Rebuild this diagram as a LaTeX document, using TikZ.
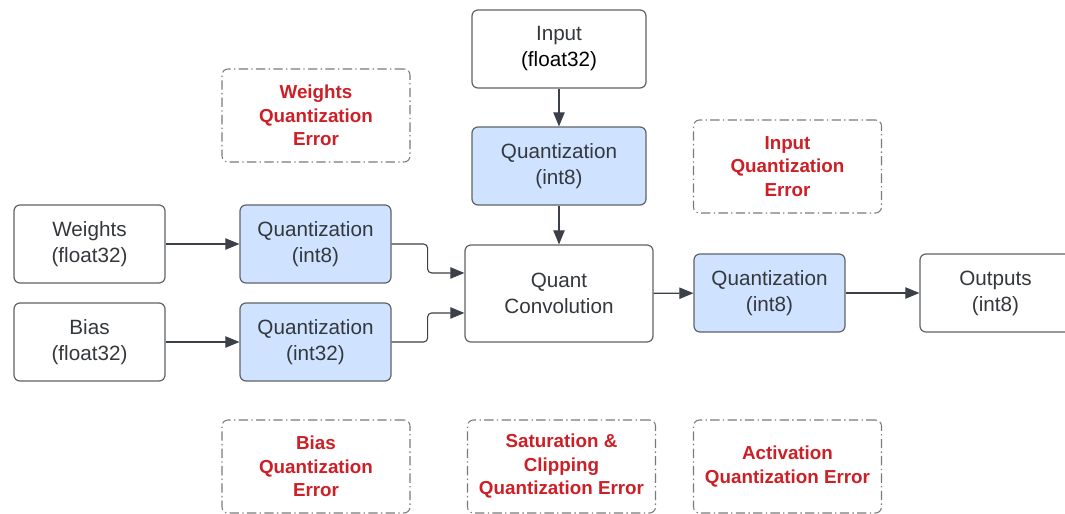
\documentclass[tikz,border=0pt]{standalone}
\usepackage{fontspec}
\setmainfont{Liberation Sans}
\usetikzlibrary{arrows.meta}
\begin{document}
\begin{tikzpicture}[x=0.75pt, y=-0.75pt,
        box/.style={draw=boxg, line width=0.9pt, rounded corners=4.5pt, fill=white,
          text=txtg, align=center, inner sep=0pt,
          minimum width=113.25pt, minimum height=58.5pt,
          font=\fontsize{15.5}{19.5}\selectfont},
        qbox/.style={box, fill=qblue},
        wide/.style={minimum width=130.5pt},
        errbox/.style={draw=errg, line width=0.8pt, rounded corners=4.5pt,
          dash pattern=on 7pt off 2.5pt on 1pt off 2.5pt,
          text=errred, align=center, inner sep=0pt,
          minimum width=141pt, minimum height=69.75pt,
          font=\fontsize{14.1}{17.6}\selectfont\bfseries},
        flow/.style={draw=arrg, line width=0.8pt, -{Triangle[length=10.5pt, width=8.5pt]}},
      ]
      \definecolor{boxg}{HTML}{5F6368}
      \definecolor{arrg}{HTML}{3C4048}
      \definecolor{txtg}{HTML}{34383C}
      \definecolor{qblue}{HTML}{CFE2FF}
      \definecolor{errg}{HTML}{7A7A7A}
      \definecolor{errred}{HTML}{CC1F26}
      \path[use as bounding box, fill=white] (0,0) rectangle (1065,514);
      % left inputs
      \node[box] (wts) at (89.5,244) {Weights\\(float32)};
      \node[box] (bias) at (89.5,342) {Bias\\(float32)};
      \node[qbox] (qw) at (315.5,244) {Quantization\\(int8)};
      \node[qbox] (qb) at (315.5,342) {Quantization\\(int32)};
      % centre column
      \node[box, wide] (inp) at (559,49) {Input\\\textcolor{black}{(float32)}};
      \node[qbox, wide] (qin) at (559,166) {Quantization\\(int8)};
      \node[box, minimum width=141pt, minimum height=72.75pt] (conv) at (559,293.5) {Quant\\Convolution};
      % output side
      \node[qbox] (qout) at (769.5,293) {Quantization\\(int8)};
      \node[box] (outs) at (995.5,293) {Outputs\\(int8)};
      % error notes
      \node[errbox] (ew) at (316,115.5) {Weights\\Quantization\\Error};
      \node[errbox] (ei) at (787.5,166.5) {Input\\Quantization\\Error};
      \node[errbox] (eb) at (316,466.5) {Bias\\Quantization\\Error};
      \node[errbox] (es) at (561.5,466.5) {Saturation \&\\Clipping\\Quantization Error};
      \node[errbox] (ea) at (787.5,466.5) {Activation\\Quantization Error};
      % connectors
      \draw[flow] (wts) -- (qw);
      \draw[flow] (bias) -- (qb);
      \draw[flow, rounded corners=3pt] (qw.east) -- ++(36,0) |- ([yshift=15.4pt]conv.west);
      \draw[flow, rounded corners=3pt] (qb.east) -- ++(36,0) |- ([yshift=-14.6pt]conv.west);
      \draw[flow] (inp) -- (qin);
      \draw[flow] (qin) -- (conv);
      \draw[flow] (conv) -- (qout);
      \draw[flow] (qout) -- (outs);
    \end{tikzpicture}
\end{document}
